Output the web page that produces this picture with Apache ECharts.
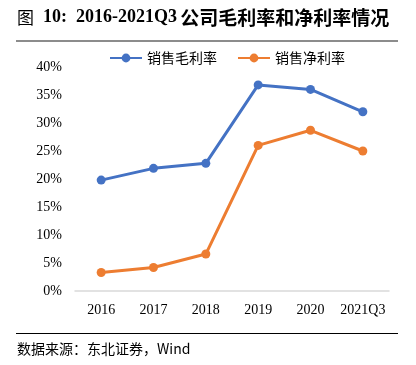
<!DOCTYPE html>
<html><head><meta charset="utf-8">
<script src="https://cdn.jsdelivr.net/npm/echarts@6/dist/echarts.min.js"></script>
<style>html,body{margin:0;padding:0;background:#fff}#c{width:416px;height:365px}</style>
</head><body><div id="c"></div>
<script>
var categories = ['2016','2017','2018','2019','2020','2021Q3'];
var grossMargin = [19.8, 21.9, 22.8, 36.8, 36.0, 32.0];
var netMargin = [3.3, 4.2, 6.6, 26.0, 28.7, 25.0];
var seriesNames = ['销售毛利率','销售净利率'];
var sourceText = '数据来源：东北证券，Wind';

var chart = echarts.init(document.getElementById('c'));
var serif = '"Liberation Serif","DejaVu Serif",serif';
var cjk = '"Noto Sans CJK SC",sans-serif';
chart.setOption({
  animation:false,
  backgroundColor:'#fff',
  color:['#4472C4','#ED7D31'],
  graphic:[
    {type:'text', left:17, top:8, style:{
      text:'{a|图}{s|}{b|10:}{s|}{b|2016-2021Q3} {c|公司毛利率和净利率情况}',
      rich:{
        a:{fontFamily:cjk, fontSize:17, fill:'#000'},
        s:{width:9},
        b:{fontFamily:serif, fontSize:18, fontWeight:'bold', fill:'#000'},
        c:{fontFamily:cjk, fontSize:19, fontWeight:'bold', fill:'#000'}
      }}},
    {type:'rect', shape:{x:16, y:40, width:382, height:2}, style:{fill:'#8c8c8c'}},
    {type:'rect', shape:{x:16, y:333, width:382, height:1}, style:{fill:'#000'}},
    {type:'text', left:17, top:342, style:{text:sourceText, fontFamily:cjk, fontSize:14, fill:'#000'}}
  ],
  legend:{
    top:46, left:104, itemGap:20, itemWidth:32, itemHeight:11,
    textStyle:{fontFamily:cjk, fontSize:14, color:'#000'},
    data:seriesNames
  },
  grid:{left:75, right:27, top:67, bottom:74},
  xAxis:{
    type:'category', data:categories, boundaryGap:true,
    axisLine:{lineStyle:{color:'#d9d9d9', width:1.5}},
    axisTick:{show:false},
    axisLabel:{fontFamily:serif, fontSize:14, color:'#000', margin:12, interval:0}
  },
  yAxis:{
    type:'value', min:0, max:40, interval:5,
    splitLine:{show:false}, axisLine:{show:false}, axisTick:{show:false},
    axisLabel:{fontFamily:serif, fontSize:14, color:'#000', margin:13, formatter:'{value}%'}
  },
  series:[
    {name:seriesNames[0], type:'line', data:grossMargin, symbol:'circle', symbolSize:9,
     lineStyle:{width:3}},
    {name:seriesNames[1], type:'line', data:netMargin, symbol:'circle', symbolSize:9,
     lineStyle:{width:3}}
  ]
});
</script></body></html>
